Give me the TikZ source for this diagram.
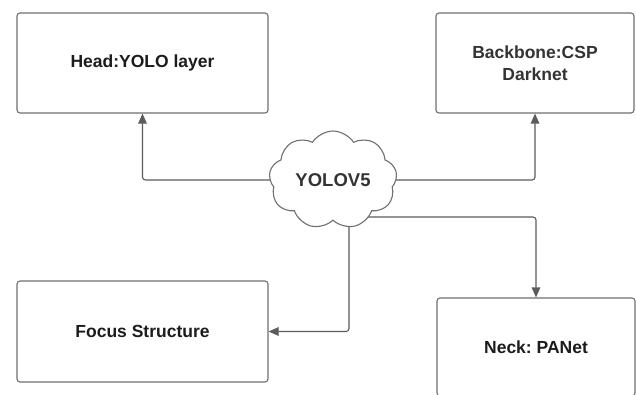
\documentclass[tikz,border=0pt]{standalone}
\usepackage{fontspec}
\setmainfont{Liberation Sans}
\frenchspacing
\usetikzlibrary{shapes.symbols,arrows.meta}
\definecolor{edge}{HTML}{707070}
\definecolor{wire}{HTML}{5C5C5C}
\definecolor{ink}{HTML}{1C1C1C}
\definecolor{softink}{HTML}{333333}
\pgfdeclarelayer{backdrop}
\pgfdeclarelayer{wires}
\pgfsetlayers{backdrop,wires,main}
\begin{document}
\begin{tikzpicture}[x=1pt,y=-1pt,
  block/.style={draw=edge, line width=1.1pt, rounded corners=3pt, fill=white,
    inner sep=0pt, text=ink, align=center,
    font=\bfseries\fontsize{17.5}{21.5}\selectfont},
  hub/.style={cloud, cloud puffs=9, cloud puff arc=115, aspect=1.35,
    draw=edge, line width=1.1pt, fill=white, inner sep=0pt,
    minimum width=128pt, minimum height=98pt, text=softink,
    font=\bfseries\fontsize{18.5}{22}\selectfont},
  link/.style={draw=wire, line width=1.1pt, rounded corners=3pt,
    -{Triangle[length=10pt,width=8.5pt]}},
]
\clip (0,0) rectangle (636,394);
\begin{pgfonlayer}{backdrop}
  \fill[white] (0,0) rectangle (636,394);
\end{pgfonlayer}

% the four parts of the model
\node[block, minimum width=251pt, minimum height=100pt] (head) at (142.5,63) {Head:YOLO layer};
\node[block, minimum width=198pt, minimum height=100pt, text=softink] (backbone) at (535,63) {Backbone:CSP\\Darknet};
\node[block, minimum width=251pt, minimum height=101pt] (focus) at (142.5,331.5) {Focus Structure};
\node[block, minimum width=198pt, minimum height=98pt] (neck) at (536,347) {Neck: PANet};

% central cloud
\node[hub] (yolo) at (333,180) {YOLOV5};

% connectors, drawn beneath the cloud
\begin{pgfonlayer}{wires}
  \draw[link] (yolo.center) -| (head.south);
  \draw[link] (yolo.center) -| (backbone.south);
  \draw[link] (yolo.center) ++(0,37) -| (neck.north);
  \draw[link] (yolo.center) ++(16,0) |- (focus.east);
\end{pgfonlayer}
\end{tikzpicture}
\end{document}
